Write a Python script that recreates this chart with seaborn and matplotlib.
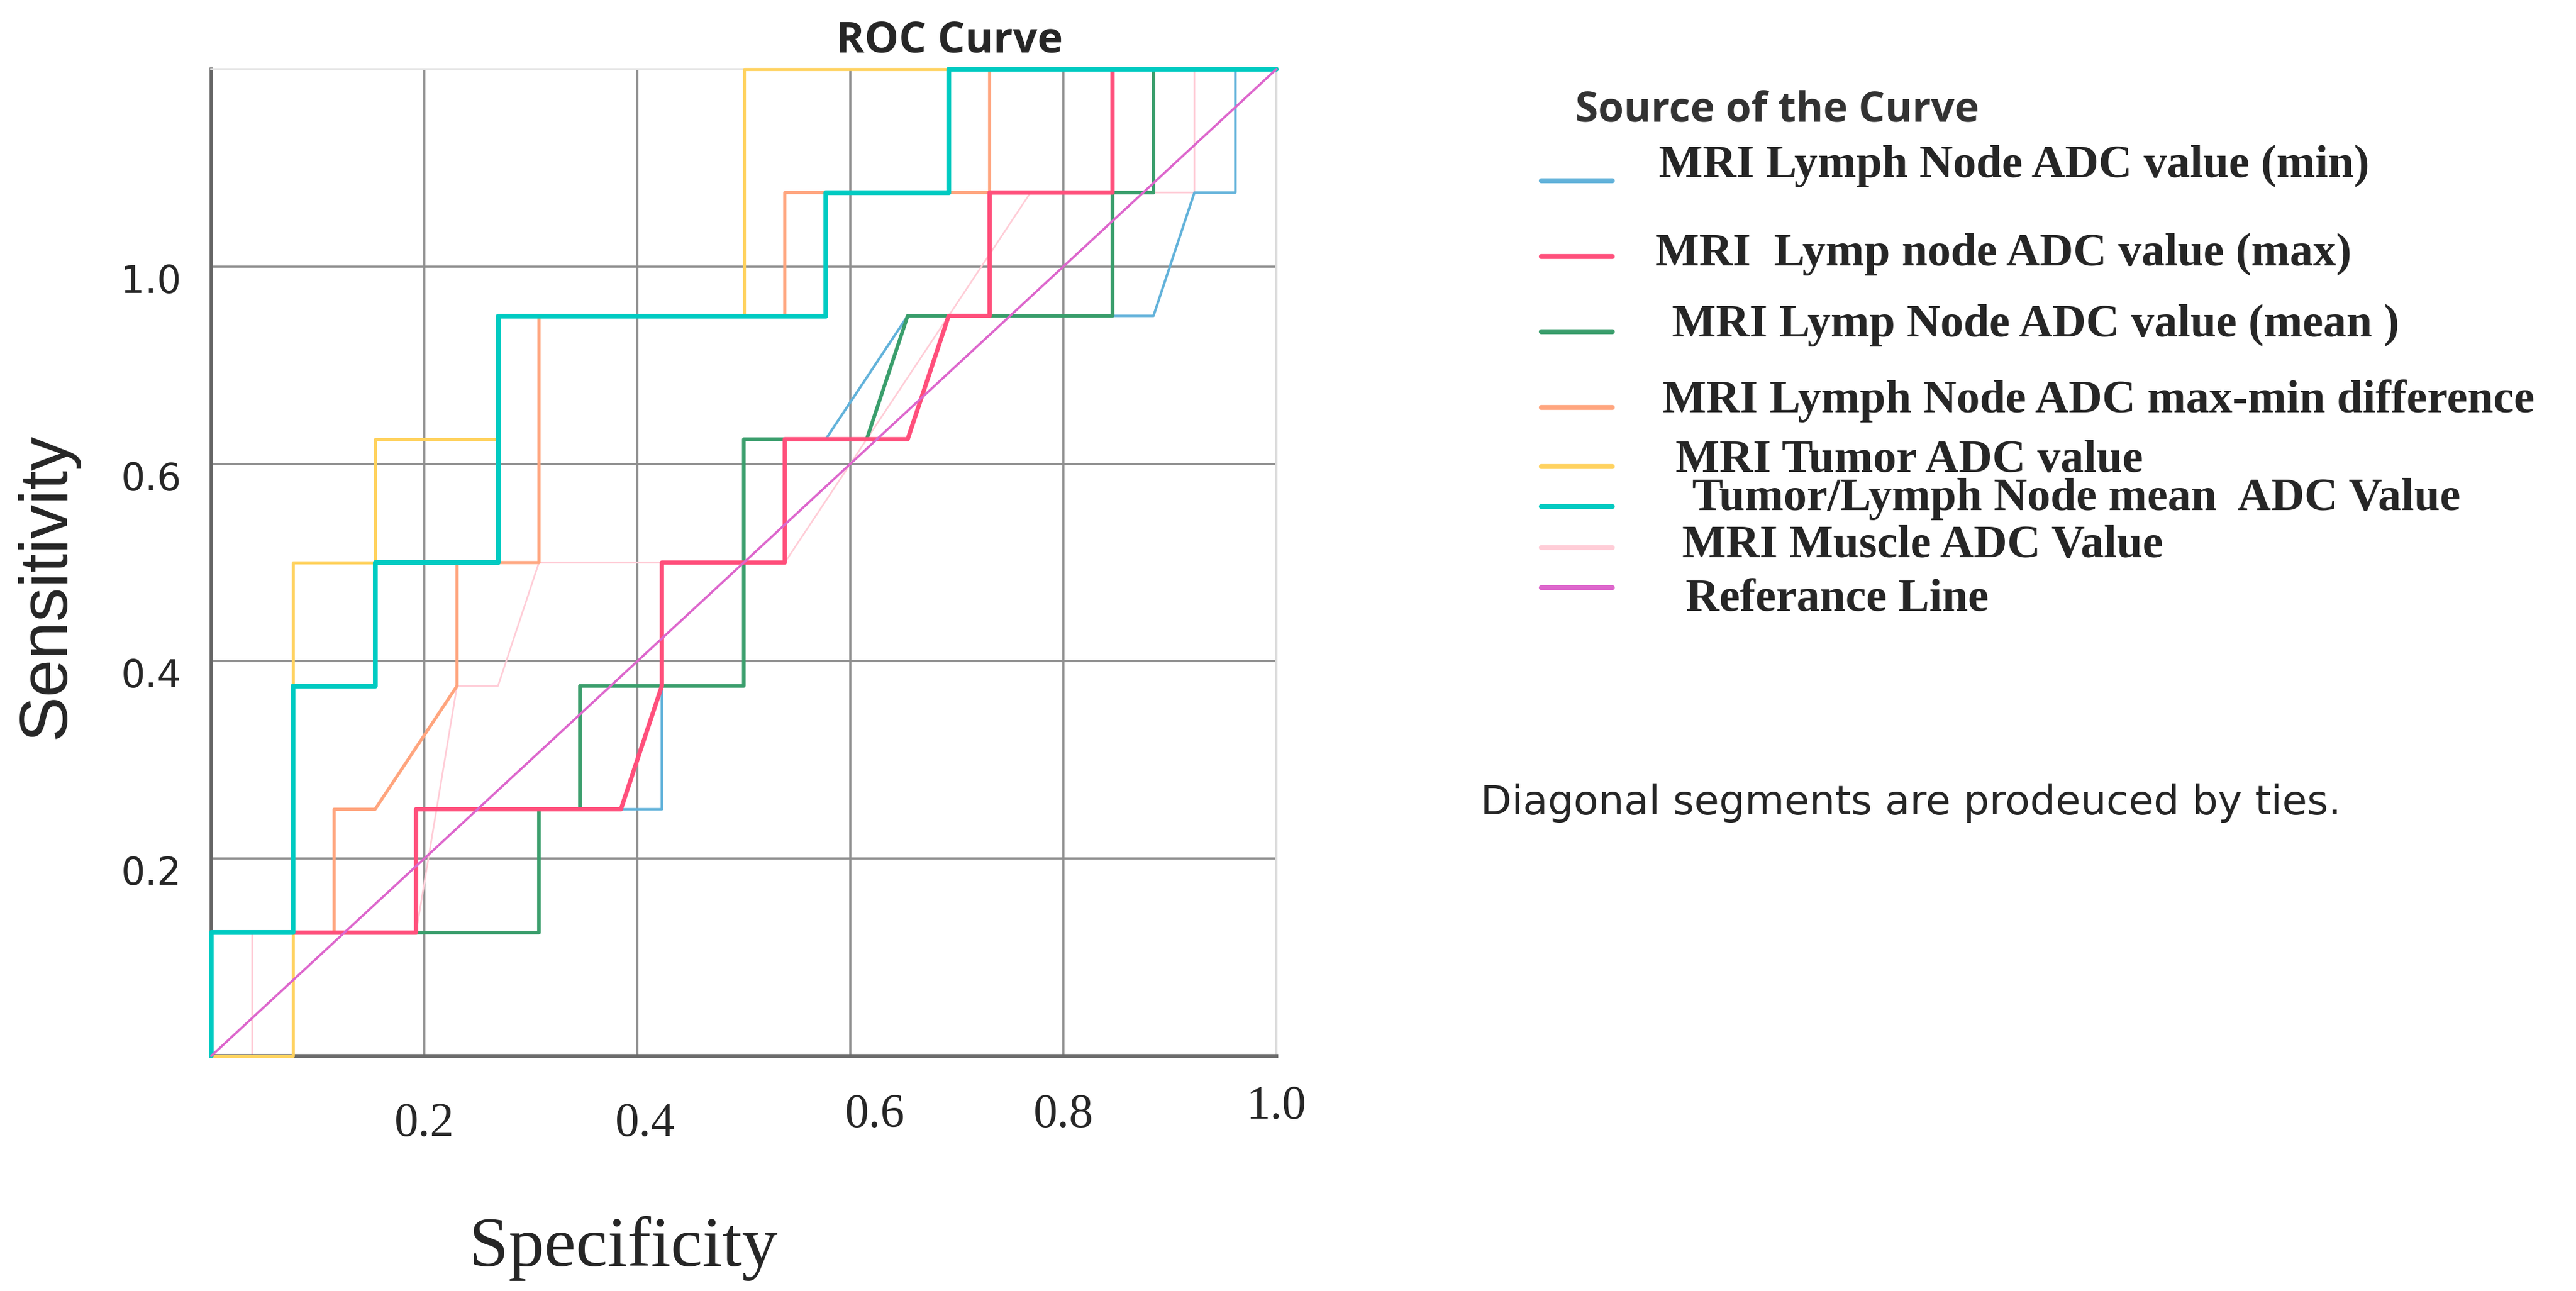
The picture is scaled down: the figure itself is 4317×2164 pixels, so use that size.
import numpy as np
import pandas as pd
import matplotlib.pyplot as plt
import seaborn as sns
from matplotlib.lines import Line2D
from matplotlib.transforms import ScaledTranslation

# =============================
# DATA (ROC steps: x in 1/26 units, y in 1/8 units)
# =============================
N_NEG = 26
N_POS = 8

labels = [
    "MRI Lymph Node ADC value (min)",
    "MRI  Lymp node ADC value (max)",
    "MRI Lymp Node ADC value (mean )",
    "MRI Lymph Node ADC max-min difference",
    "MRI Tumor ADC value",
    "Tumor/Lymph Node mean  ADC Value",
    "MRI Muscle ADC Value",
    "Referance Line",
]

min_fpr = [0, 0, 5, 5, 11, 11, 13, 13, 15, 17, 23, 24, 25, 25, 26]
min_tpr = [0, 1, 1, 2, 2, 3, 3, 5, 5, 6, 6, 7, 7, 8, 8]

max_fpr = [0, 0, 5, 5, 10, 11, 11, 14, 14, 17, 18, 19, 19, 22, 22, 26]
max_tpr = [0, 1, 1, 2, 2, 3, 4, 4, 5, 5, 6, 6, 7, 7, 8, 8]

mean_fpr = [0, 0, 8, 8, 9, 9, 13, 13, 16, 17, 22, 22, 23, 23, 26]
mean_tpr = [0, 1, 1, 2, 2, 3, 3, 5, 5, 6, 6, 7, 7, 8, 8]

diff_fpr = [0, 0, 3, 3, 4, 6, 6, 8, 8, 14, 14, 19, 19, 26]
diff_tpr = [0, 1, 1, 2, 2, 3, 4, 4, 6, 6, 7, 7, 8, 8]

tumor_fpr = [0, 2, 2, 4, 4, 7, 7, 13, 13, 26]
tumor_tpr = [0, 0, 4, 4, 5, 5, 6, 6, 8, 8]

ratio_fpr = [0, 0, 2, 2, 4, 4, 7, 7, 15, 15, 18, 18, 26]
ratio_tpr = [0, 1, 1, 3, 3, 4, 4, 6, 6, 7, 7, 8, 8]

muscle_fpr = [0, 1, 1, 5, 6, 7, 8, 14, 20, 24, 24, 26]
muscle_tpr = [0, 0, 1, 1, 3, 3, 4, 4, 7, 7, 8, 8]

ref_x = [0, 1]
ref_y = [0, 1]

x_ticks = [0.2, 0.4, 0.6, 0.8, 1.0]
x_ticklabels = ["0.2", "0.4", "0.6", "0.8", "1.0"]
y_ticks = [0.2, 0.4, 0.6, 0.8]
y_ticklabels = ["0.2", "0.4", "0.6", "1.0"]

# =============================
# STYLE
# =============================
colors = ["#62b2da", "#ff4f7b", "#3a9e6c", "#ffa57e",
          "#ffd25e", "#00cbc2", "#ffcdd7", "#dd66cc"]
widths = [1.5, 2.6, 2.2, 1.9, 1.9, 2.9, 1.0, 1.4]
orders = [3, 6, 4, 5, 5, 7, 2, 8]

W, H, DPI = 4317, 2164, 200
sns.set_style("white")
fig = plt.figure(figsize=(W / DPI, H / DPI), dpi=DPI)
ax = fig.add_axes([354 / W, 1 - 1770 / H, (2139 - 354) / W, (1770 - 116) / H])

curves = [
    (min_fpr, min_tpr), (max_fpr, max_tpr), (mean_fpr, mean_tpr),
    (diff_fpr, diff_tpr), (tumor_fpr, tumor_tpr), (ratio_fpr, ratio_tpr),
    (muscle_fpr, muscle_tpr),
]

for i, (fx, ty) in enumerate(curves):
    df = pd.DataFrame({"x": np.array(fx) / N_NEG, "y": np.array(ty) / N_POS})
    sns.lineplot(data=df, x="x", y="y", sort=False, estimator=None, ax=ax,
                 color=colors[i], linewidth=widths[i], zorder=orders[i],
                 clip_on=False, legend=False)

sns.lineplot(x=ref_x, y=ref_y, sort=False, estimator=None, ax=ax,
             color=colors[7], linewidth=widths[7], zorder=orders[7],
             clip_on=False, legend=False)

ax.set_xlim(0, 1)
ax.set_ylim(0, 1)
ax.set_xticks(x_ticks)
ax.set_xticklabels(x_ticklabels, family="Liberation Serif", fontsize=29)
ax.set_yticks(y_ticks)
ax.set_yticklabels(y_ticklabels, family="DejaVu Sans", fontsize=23)
ax.tick_params(axis="x", length=0, pad=24)
ax.tick_params(axis="y", length=0, pad=18)

# the source labels sit a little off their ticks
xlab_dx = [0, 13, 41, 0, 0]
xlab_dy = [-11, -11, 4, 4, 18]
for lab, dx, dy in zip(ax.get_xticklabels(), xlab_dx, xlab_dy):
    lab.set_transform(lab.get_transform() + ScaledTranslation(dx / DPI, dy / DPI, fig.dpi_scale_trans))
for lab in ax.get_yticklabels():
    lab.set_transform(lab.get_transform() + ScaledTranslation(0, -7 / 72, fig.dpi_scale_trans))
ax.set_xlabel("")
ax.set_ylabel("")

ax.grid(True, color="#8f8f8f", linewidth=1.3, zorder=0)
ax.set_axisbelow(True)
ax.xaxis.get_gridlines()[-1].set_color("#dcdcdc")

ax.spines["left"].set_color("#666666")
ax.spines["left"].set_linewidth(2.0)
ax.spines["bottom"].set_color("#6a6a6a")
ax.spines["bottom"].set_linewidth(2.3)
ax.spines["top"].set_color("#e4e4e4")
ax.spines["top"].set_linewidth(1.3)
ax.spines["right"].set_color("#dcdcdc")
ax.spines["right"].set_linewidth(1.3)

# =============================
# TEXTS
# =============================
fig.text(1591 / W, 1 - 88 / H, "ROC Curve", ha="center", va="baseline",
         family="Open Sans", fontweight="bold", fontsize=26)
fig.text(79 / W, 1 - 982 / H, "Sensitivity", rotation=90, ha="center", va="center",
         family="Liberation Sans", fontsize=41)
fig.text(1045 / W, 1 - 2122 / H, "Specificity", ha="center", va="baseline",
         family="Liberation Serif", fontsize=43)
fig.text(2481 / W, 1 - 1365 / H, "Diagonal segments are prodeuced by ties.",
         ha="left", va="baseline", family="DejaVu Sans", fontsize=24.5)

# manual legend (irregular spacing as in the source)
fig.text(2640 / W, 1 - 203 / H, "Source of the Curve", ha="left", va="baseline",
         family="Open Sans", fontweight="bold", fontsize=25, color="#333333")
text_x = [2780, 2774, 2802, 2786, 2808, 2836, 2819, 2825]
text_base = [297, 445, 564, 691, 791, 855, 933, 1024]
handle_y = [303, 430, 556, 683, 782, 849, 918, 985]
for i, lab in enumerate(labels):
    fig.add_artist(Line2D([2583 / W, 2702 / W], [1 - handle_y[i] / H] * 2,
                          color=colors[i], linewidth=3.0, transform=fig.transFigure))
    fig.text(text_x[i] / W, 1 - text_base[i] / H, lab, ha="left", va="baseline",
             family="Liberation Serif", fontweight="bold", fontsize=28)

fig.savefig("out.png", dpi=DPI)
plt.close(fig)
